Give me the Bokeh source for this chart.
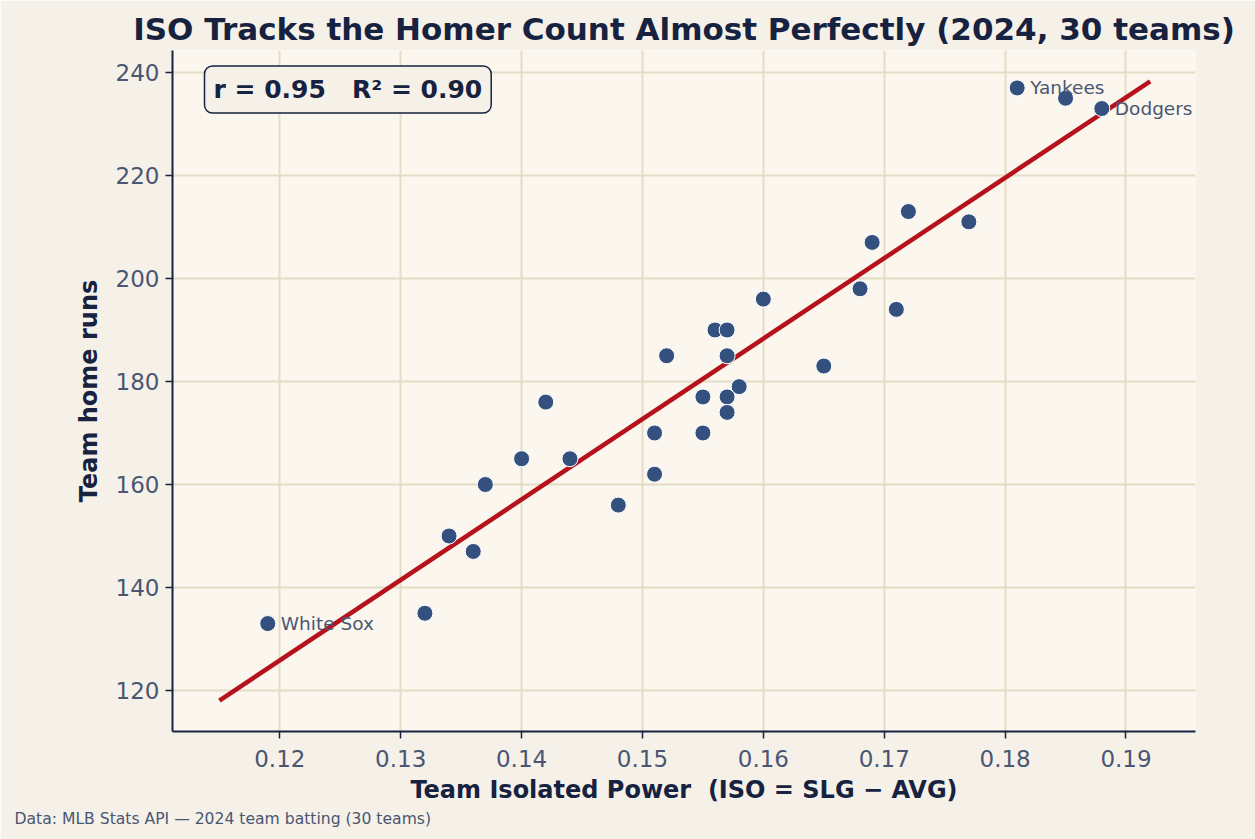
import numpy as np
from bokeh.plotting import figure
from bokeh.models import Range1d, FixedTicker, Label, ColumnDataSource, Title
from bokeh.core.properties import value
from bokeh.embed import file_html
from bokeh.resources import INLINE

# Data
iso = [0.119, 0.132, 0.134, 0.136, 0.137, 0.140, 0.142, 0.144, 0.148, 0.151,
       0.151, 0.152, 0.155, 0.155, 0.156, 0.157, 0.157, 0.157, 0.157, 0.158,
       0.160, 0.165, 0.168, 0.169, 0.171, 0.172, 0.177, 0.181, 0.185, 0.188]
home_runs = [133, 135, 150, 147, 160, 165, 176, 165, 156, 170,
             162, 185, 177, 170, 190, 190, 185, 177, 174, 179,
             196, 183, 198, 207, 194, 213, 211, 237, 235, 233]
team_labels = ["White Sox", "", "", "", "", "", "", "", "", "",
               "", "", "", "", "", "", "", "", "", "",
               "", "", "", "", "", "", "", "Yankees", "", "Dodgers"]
x_ticks = [0.12, 0.13, 0.14, 0.15, 0.16, 0.17, 0.18, 0.19]
y_ticks = [120, 140, 160, 180, 200, 220, 240]
fit_x_range = [0.115, 0.192]
stats_text = "r = 0.95\u00a0\u00a0\u00a0R\u00b2 = 0.90"

NAVY = "#16223f"
TICK = "#4a5672"
FONT = "DejaVu Sans"

p = figure(width=1255, height=839, output_backend="svg", toolbar_location=None,
           x_range=Range1d(0.11112, 0.19575), y_range=Range1d(112.04, 244.27),
           min_border_left=172, min_border_right=60, min_border_top=50, min_border_bottom=108)
p.title.text = "ISO Tracks the Homer Count Almost Perfectly (2024, 30 teams)"
p.title.text_font = FONT
p.title.text_font_size = "31px"
p.title.text_font_style = "bold"
p.title.text_color = NAVY
p.title.align = "center"
p.title.standoff = 8

p.background_fill_color = "#fbf7ef"
p.border_fill_color = "#f5f1e8"
p.outline_line_color = None

p.xgrid.grid_line_color = "#e4dcc6"
p.ygrid.grid_line_color = "#e4dcc6"
p.xgrid.grid_line_width = 2
p.ygrid.grid_line_width = 2
p.xaxis.ticker = FixedTicker(ticks=x_ticks)
p.yaxis.ticker = FixedTicker(ticks=y_ticks)

for ax in (p.xaxis[0], p.yaxis[0]):
    ax.axis_line_color = NAVY
    ax.axis_line_width = 2
    ax.major_tick_line_color = NAVY
    ax.major_tick_line_width = 1.5
    ax.major_tick_out = 7
    ax.major_tick_in = 0
    ax.minor_tick_line_color = None
    ax.major_label_text_font = FONT
    ax.major_label_text_font_size = "23px"
    ax.major_label_text_color = TICK
    ax.axis_label_text_font = FONT
    ax.axis_label_text_font_size = "24px"
    ax.axis_label_text_font_style = "bold"
    ax.axis_label_text_color = NAVY

p.xaxis.axis_label = "Team Isolated Power\u00a0\u00a0(ISO = SLG \u2212 AVG)"
p.yaxis.axis_label = "Team home runs"
p.xaxis.major_label_standoff = 11
p.yaxis.major_label_standoff = 6
p.xaxis.axis_label_standoff = 6
p.yaxis.axis_label_standoff = 10

# regression line from data
slope, intercept = np.polyfit(np.array(iso), np.array(home_runs), 1)
fx = np.array(fit_x_range)
p.line(fx, slope * fx + intercept, line_color="#b5121b", line_width=4.5)

src = ColumnDataSource(dict(x=iso, y=home_runs, t=team_labels))
p.scatter("x", "y", source=src, size=16, fill_color="#34507f", line_color="white",
          line_width=1)
p.text("x", "y", text="t", source=src, x_offset=13, text_baseline="middle",
       text_font=value(FONT), text_font_size="18.5px", text_color=TICK)

box = Label(x=32, y=642, x_units="screen", y_units="screen", text=stats_text,
            text_font=FONT, text_font_size="25px", text_font_style="bold",
            text_color=NAVY, text_baseline="middle",
            background_fill_color="#f5f1e8", border_line_color=NAVY,
            border_line_width=1.5, border_radius=8, padding=9)
p.add_layout(box)

foot = Title(text="Data: MLB Stats API \u2014 2024 team batting (30 teams)",
             align="left", offset=-158, text_font=FONT, text_font_size="15.6px",
             text_font_style="normal", text_color=TICK, standoff=2)
p.add_layout(foot, "below")

open("out.html", "w").write(file_html(p, INLINE))
